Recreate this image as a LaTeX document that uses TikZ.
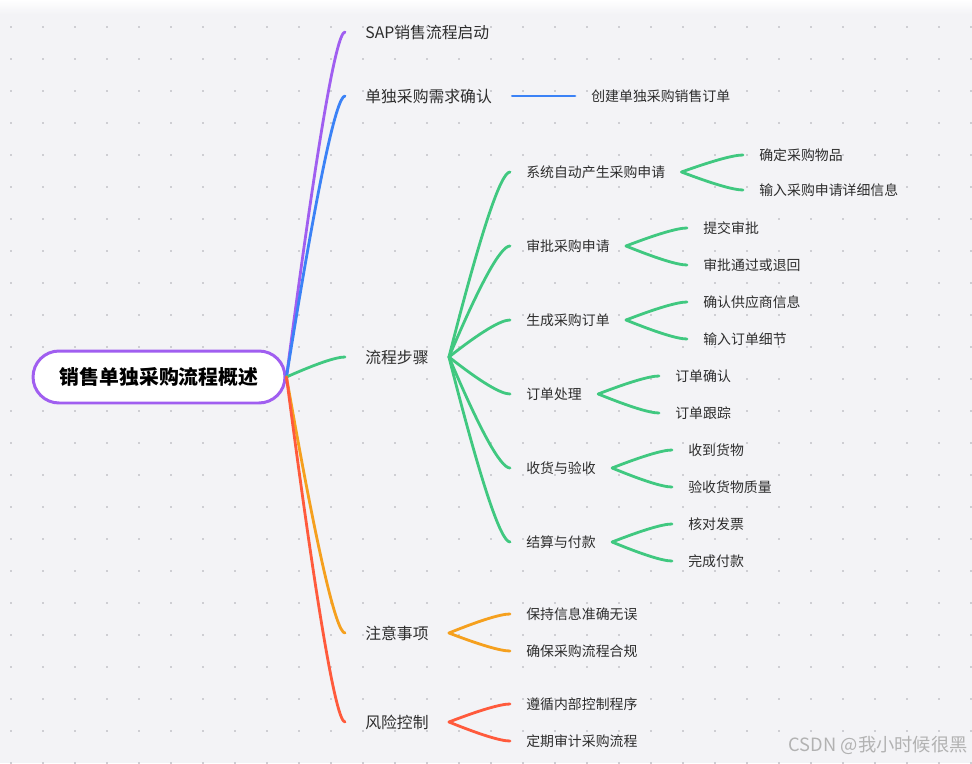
\documentclass[tikz,border=0pt]{standalone}
\usepackage{fontspec}
\setmainfont{Noto Sans CJK SC}
\usetikzlibrary{positioning,calc}
\definecolor{BgGray}{RGB}{243,243,246}
\definecolor{DotGray}{RGB}{206,206,211}
\definecolor{MapPurple}{RGB}{160,94,240}
\definecolor{MapBlue}{RGB}{59,130,246}
\definecolor{MapGreen}{RGB}{64,200,128}
\definecolor{MapOrange}{RGB}{245,160,30}
\definecolor{MapRed}{RGB}{255,90,60}
\definecolor{TextDark}{RGB}{45,45,45}
\tikzset{
  root/.style={draw=MapPurple,line width=1.7pt,fill=white,rounded corners=0.52cm,
    minimum width=5.04cm,minimum height=1.04cm,font=\fontsize{11.3}{13}\selectfont\bfseries},
  topic/.style={anchor=west,inner xsep=0.4cm,inner ysep=2pt,text=TextDark,
    font=\fontsize{9}{11}\selectfont},
  leaf/.style={anchor=west,inner xsep=0.32cm,inner ysep=2pt,text=TextDark,
    font=\fontsize{7.9}{10}\selectfont},
  branch/.style={line width=1.6pt,line cap=round,to path={
    let \p1=(\tikztostart),\p2=(\tikztotarget) in
    .. controls ({\x1+0.513*(\x2-\x1)},{\y1+0.667*(\y2-\y1)})
    and ({\x2-0.153*(\x2-\x1)},\y2) .. (\tikztotarget)}},
  watermark/.style={anchor=east,inner sep=0pt,text=black!30,
    font=\fontsize{10.4}{12}\selectfont},
}

\begin{document}
\begin{tikzpicture}[x=0.02cm,y=-0.02cm]
\useasboundingbox (0,0) rectangle (972,763);
\fill[BgGray] (0,0) rectangle (972,763);
\shade[top color=white,bottom color=BgGray] (0,0) rectangle (972,14);
\foreach \i in {0,...,30}
  \foreach \j in {0,...,23}
    \fill[DotGray] (11+32*\i-1.3,27+32*\j-1.3) rectangle +(2.6,2.6);

% centre topic
\node[root] (core) at (159,377) {销售单独采购流程概述};

% main branches
\node[topic] (start) at (345,32) {SAP销售流程启动};
\node[topic] (need) at (345,96) {单独采购需求确认};
\node[topic] (steps) at (345,357) {流程步骤};
\node[topic] (notes) at (345,633) {注意事项};
\node[topic] (risk) at (345,722) {风险控制};

\draw[branch,MapPurple] (core.east) to (start.west);
\draw[branch,MapBlue] (core.east) to (need.west);
\draw[branch,MapGreen] (core.east) to (steps.west);
\draw[branch,MapOrange] (core.east) to (notes.west);
\draw[branch,MapRed] (core.east) to (risk.west);

% need
\node[leaf] (order) at (575,96) {创建单独采购销售订单};
\draw[MapBlue,line width=1.6pt,line cap=round] (need.east) -- (order.west);

% steps
\node[leaf] (auto) at (510,172) {系统自动产生采购申请};
\node[leaf] (check) at (510,246) {审批采购申请};
\node[leaf] (make) at (510,320) {生成采购订单};
\node[leaf] (handle) at (510,394) {订单处理};
\node[leaf] (recv) at (510,468) {收货与验收};
\node[leaf] (pay) at (510,542) {结算与付款};
\foreach \s in {auto,check,make,handle,recv,pay}
  \draw[branch,MapGreen] (steps.east) to (\s.west);

\node[leaf] (auto1) at (743,155) {确定采购物品};
\node[leaf] (auto2) at (743,190) {输入采购申请详细信息};
\node[leaf] (check1) at (687,228) {提交审批};
\node[leaf] (check2) at (687,265) {审批通过或退回};
\node[leaf] (make1) at (687,302) {确认供应商信息};
\node[leaf] (make2) at (687,339) {输入订单细节};
\node[leaf] (handle1) at (659,376) {订单确认};
\node[leaf] (handle2) at (659,413) {订单跟踪};
\node[leaf] (recv1) at (672,450) {收到货物};
\node[leaf] (recv2) at (672,487) {验收货物质量};
\node[leaf] (pay1) at (672,524) {核对发票};
\node[leaf] (pay2) at (672,561) {完成付款};
\foreach \s in {auto,check,make,handle,recv,pay}{
  \draw[branch,MapGreen] (\s.east) to (\s1.west);
  \draw[branch,MapGreen] (\s.east) to (\s2.west);
}

% notes
\node[leaf] (notes1) at (510,614) {保持信息准确无误};
\node[leaf] (notes2) at (510,651) {确保采购流程合规};
\draw[branch,MapOrange] (notes.east) to (notes1.west);
\draw[branch,MapOrange] (notes.east) to (notes2.west);

% risk
\node[leaf] (risk1) at (510,704) {遵循内部控制程序};
\node[leaf] (risk2) at (510,741) {定期审计采购流程};
\draw[branch,MapRed] (risk.east) to (risk1.west);
\draw[branch,MapRed] (risk.east) to (risk2.west);

\node[watermark] (mark) at (968,745) {CSDN @我小时候很黑};
\end{tikzpicture}
\end{document}
